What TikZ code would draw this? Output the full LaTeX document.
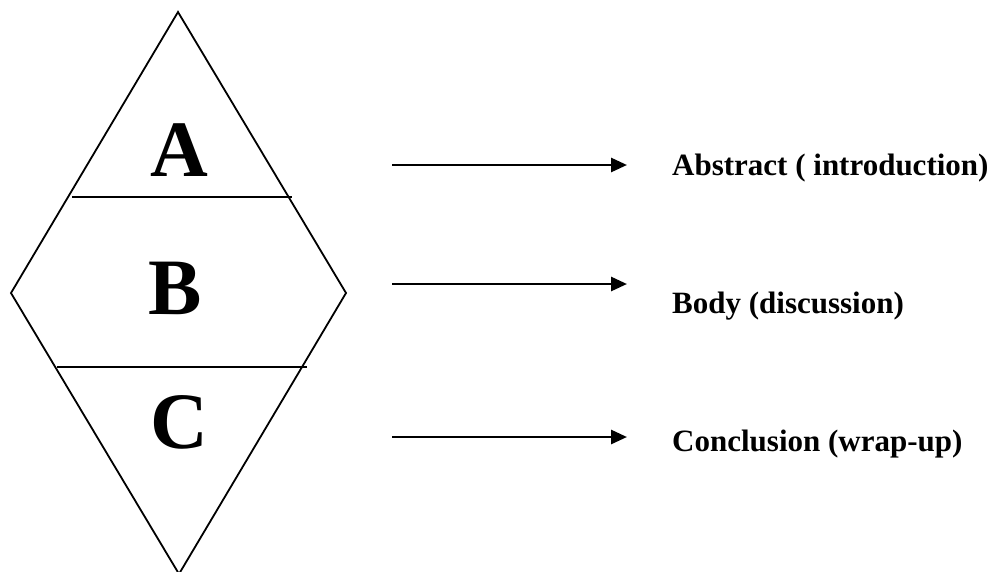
\documentclass[tikz,border=0pt]{standalone}
\usepackage{fontspec}
\setmainfont{Liberation Serif}
\usetikzlibrary{arrows.meta}
\begin{document}
\begin{tikzpicture}[x=1pt,y=-1pt,
  edge/.style={line width=1.8pt,line join=miter},
  divider/.style={line width=1.8pt},
  letter/.style={font=\fontsize{80}{80}\selectfont\bfseries,inner sep=0pt,anchor=base},
  label/.style={font=\fontsize{31}{31}\selectfont\bfseries,inner sep=0pt,anchor=base west},
  pointer/.style={line width=2.8pt,-{Triangle[length=16pt,width=14pt]}}]
\useasboundingbox (0,0) rectangle (1001,571);
% diamond
\coordinate (top) at (178,12);
\coordinate (left) at (11,293);
\coordinate (right) at (346,293);
\coordinate (bottom) at (179,574);
\draw[edge] (top) -- (right) -- (bottom) -- (left) -- cycle;
% dividers
\coordinate (d1l) at (72,197);
\coordinate (d1r) at (292,197);
\coordinate (d2l) at (57,367);
\coordinate (d2r) at (307,367);
\draw[divider] (d1l) -- (d1r);
\draw[divider] (d2l) -- (d2r);
% letters
\node[letter] (A) at (179,176) {A};
\node[letter] (B) at (175,314) {B};
\node[letter] (C) at (179,448) {C};
% labels
\node[label] (L1) at (672,175) {Abstract ( introduction)};
\node[label] (L2) at (672,313) {Body (discussion)};
\node[label] (L3) at (672,451) {Conclusion (wrap-up)};
% arrows
\coordinate (s1) at (392,165);
\coordinate (e1) at (627,165);
\coordinate (s2) at (392,284);
\coordinate (e2) at (627,284);
\coordinate (s3) at (392,437);
\coordinate (e3) at (627,437);
\draw[pointer] (s1) -- (e1);
\draw[pointer] (s2) -- (e2);
\draw[pointer] (s3) -- (e3);
\end{tikzpicture}
\end{document}
